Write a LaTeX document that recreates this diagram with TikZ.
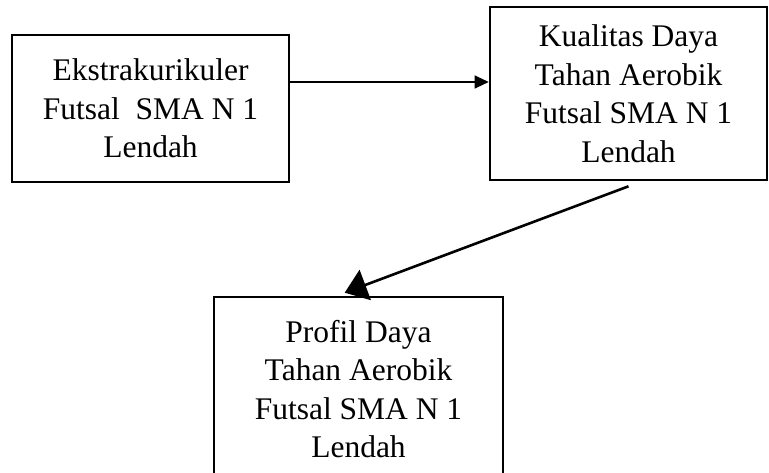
\documentclass[tikz,border=0pt]{standalone}
\usepackage{fontspec}
\setmainfont{Liberation Serif}
\usetikzlibrary{arrows.meta}
\tikzset{
  box/.style={draw, line width=2.6pt, align=center, inner sep=0pt,
    font=\fontsize{31.5pt}{38.5pt}\selectfont},
  thinarr/.style={line width=1.1pt, -{Triangle[length=14pt,width=13pt]}},
  thickarr/.style={line width=2.6pt, -{Triangle[length=22pt,width=32pt]}}
}
\begin{document}
\begin{tikzpicture}[x=1pt,y=-1pt]
\useasboundingbox (0,0) rectangle (769,473);
\node[box, minimum width=277pt, minimum height=147pt] (b1) at (150.5,108.5)
  {Ekstrakurikuler\\Futsal\ \ SMA N 1\\Lendah};
\node[box, minimum width=277pt, minimum height=173pt] (b2) at (628.5,93.5)
  {Kualitas Daya\\Tahan Aerobik\\Futsal SMA N 1\\Lendah};
\node[box, minimum width=289pt, minimum height=184pt] (b3) at (358.5,389)
  {Profil Daya\\Tahan Aerobik\\Futsal SMA N 1\\Lendah};
\coordinate (a1) at ([yshift=26.5pt]b1.east);
\draw[thinarr] (a1) -- (a1 -| b2.west);
\coordinate (s2) at ([yshift=-5pt]b2.south);
\coordinate (t2) at ([xshift=132pt,yshift=3pt]b3.north west);
\draw[thickarr] (s2) -- (t2);
\end{tikzpicture}
\end{document}
